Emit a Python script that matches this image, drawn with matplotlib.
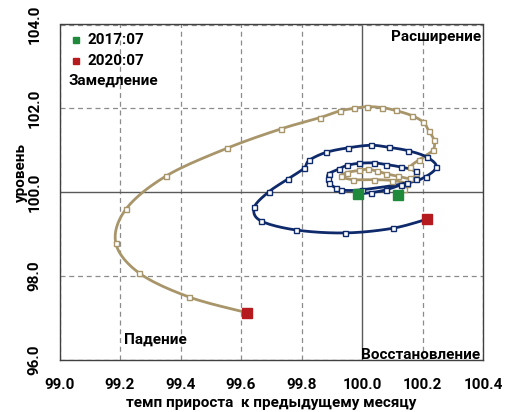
import numpy as np
import matplotlib
matplotlib.use("Agg")
import matplotlib.pyplot as plt

plt.rcParams["font.family"] = ["Roboto", "DejaVu Sans"]

# Tan series (green start 2017:07 -> red end 2020:07)
tan_x = [100.12, 100.14, 100.15, 100.10, 100.04, 99.97, 99.93, 99.95, 99.99, 100.02,
         100.05, 100.08, 100.12, 100.16, 100.18, 100.16, 100.19, 100.234, 100.238, 100.221,
         100.203, 100.164, 100.111, 100.065, 100.015, 99.974, 99.927, 99.861, 99.732, 99.554,
         99.353, 99.220, 99.186, 99.264, 99.429, 99.619]
tan_y = [99.94, 100.07, 100.20, 100.28, 100.30, 100.30, 100.38, 100.47, 100.52, 100.55,
         100.50, 100.44, 100.38, 100.33, 100.45, 100.60, 100.78, 101.00, 101.24, 101.46,
         101.67, 101.83, 101.95, 102.02, 102.04, 102.00, 101.94, 101.78, 101.51, 101.05,
         100.39, 99.60, 98.79, 98.07, 97.50, 97.13]

# Navy series
navy_x = [99.986, 100.03, 100.08, 100.13, 100.18, 100.18, 100.13, 100.08, 100.04, 99.99,
          99.95, 99.925, 99.89, 99.887, 99.892, 99.914, 99.93, 100.00, 100.15, 100.21,
          100.246, 100.214, 100.153, 100.09, 100.03, 99.955, 99.881, 99.825, 99.808, 99.756,
          99.692, 99.644, 99.665, 99.782, 99.944, 100.101, 100.216]
navy_y = [99.96, 99.99, 100.06, 100.18, 100.32, 100.50, 100.60, 100.66, 100.70, 100.69,
          100.64, 100.56, 100.44, 100.32, 100.21, 100.10, 100.05, 100.06, 100.22, 100.37,
          100.61, 100.84, 100.99, 101.07, 101.12, 101.06, 100.95, 100.76, 100.57, 100.32,
          100.01, 99.64, 99.32, 99.10, 99.03, 99.14, 99.36]

x_ticks = [99.0, 99.2, 99.4, 99.6, 99.8, 100.0, 100.2, 100.4]
y_ticks = [96.0, 98.0, 100.0, 102.0, 104.0]
legend_labels = ["2017:07", "2020:07"]
quadrants = ["Расширение", "Замедление", "Падение", "Восстановление"]

TAN = "#A8956A"
NAVY = "#0E2A6B"
GREEN = "#1F8A3C"
RED = "#B51A1F"
FS = 11

def smooth(xs, ys, n=12):
    p = np.column_stack([xs, ys]).astype(float)
    p = np.vstack([p[0], p, p[-1]])
    out = []
    for i in range(1, len(p) - 2):
        p0, p1, p2, p3 = p[i - 1], p[i], p[i + 1], p[i + 2]
        t = np.linspace(0, 1, n, endpoint=False)[:, None]
        seg = 0.5 * ((2 * p1) + (-p0 + p2) * t + (2 * p0 - 5 * p1 + 4 * p2 - p3) * t ** 2
                     + (-p0 + 3 * p1 - 3 * p2 + p3) * t ** 3)
        out.append(seg)
    out.append(p[-2][None, :])
    out = np.vstack(out)
    return out[:, 0], out[:, 1]

fig = plt.figure(figsize=(5.13, 4.12), dpi=100)
ax = fig.add_axes([59.5 / 513, 1 - 360 / 412, 423.5 / 513, 335.5 / 412])
ax.set_xlim(99.0, 100.4)
ax.set_ylim(96.0, 104.0)

for xv in x_ticks:
    if abs(xv - 100.0) < 1e-9:
        ax.axvline(xv, color="#595959", lw=1.0, zorder=1)
    else:
        ax.axvline(xv, color="#8c8c8c", lw=0.9, ls=(0, (4, 3)), zorder=1)
for yv in y_ticks:
    if abs(yv - 100.0) < 1e-9:
        ax.axhline(yv, color="#595959", lw=1.0, zorder=1)
    else:
        ax.axhline(yv, color="#8c8c8c", lw=0.9, ls=(0, (4, 3)), zorder=1)

for xs, ys, c in [(tan_x, tan_y, TAN), (navy_x, navy_y, NAVY)]:
    sx, sy = smooth(xs, ys)
    ax.plot(sx, sy, color=c, lw=2.0, zorder=3, solid_capstyle="round")
    ax.plot(xs[1:-1], ys[1:-1], ls="none", marker="s", ms=3.6, mfc="white", mec=c, mew=1.0, zorder=4)
    ax.plot([xs[0]], [ys[0]], ls="none", marker="s", ms=6.5, color=GREEN, zorder=5)
    ax.plot([xs[-1]], [ys[-1]], ls="none", marker="s", ms=6.5, color=RED, zorder=5)

ax.set_xticks(x_ticks)
ax.set_yticks(y_ticks)
ax.set_xticklabels([f"{v:.1f}" for v in x_ticks], fontsize=FS, fontweight="bold")
ax.set_yticklabels([f"{v:.1f}" for v in y_ticks], fontsize=FS, fontweight="bold",
                   rotation=90, va="center")
ax.tick_params(axis="x", length=0, pad=13)
ax.tick_params(axis="y", length=0, pad=13)
for s in ax.spines.values():
    s.set_color("#404040")
    s.set_linewidth(1.0)

ax.set_xlabel("темп прироста  к предыдущему месяцу", fontsize=FS, fontweight="bold")
ax.xaxis.set_label_coords(0.5, -0.108)
ax.set_ylabel("уровень", fontsize=FS, fontweight="bold")
ax.yaxis.set_label_coords(-0.075, 0.56)

tf = dict(fontsize=FS, fontweight="bold", color="black", transform=ax.transAxes, zorder=6)
ax.plot([0.039], [0.954], marker="s", ms=5, color=GREEN, transform=ax.transAxes, ls="none", clip_on=False)
ax.text(0.065, 0.954, legend_labels[0], va="center", ha="left", **tf)
ax.plot([0.039], [0.891], marker="s", ms=5, color=RED, transform=ax.transAxes, ls="none", clip_on=False)
ax.text(0.065, 0.891, legend_labels[1], va="center", ha="left", **tf)
ax.text(0.996, 0.963, quadrants[0], va="center", ha="right", **tf)
ax.text(0.022, 0.832, quadrants[1], va="center", ha="left", **tf)
ax.text(0.226, 0.06, quadrants[2], va="center", ha="center", **tf)
ax.text(0.993, 0.016, quadrants[3], va="center", ha="right", **tf)

fig.savefig("out.png", dpi=100)
